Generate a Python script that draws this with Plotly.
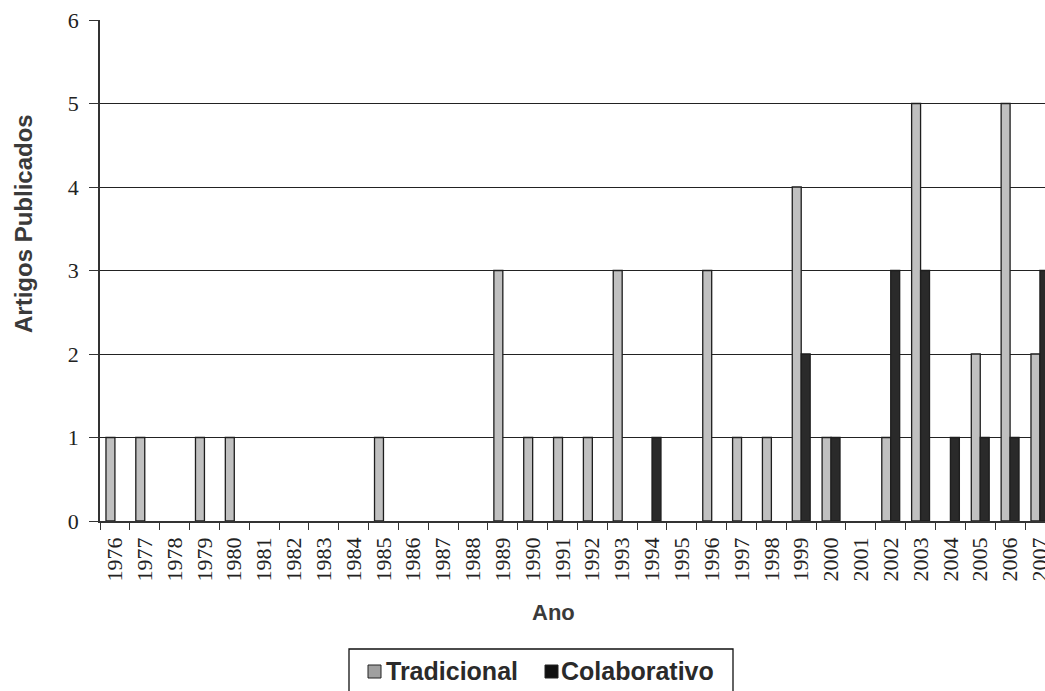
import plotly.graph_objects as go

# Artigos publicados por ano, separados por tipo
anos = [str(a) for a in range(1976, 2008)]
tradicional = [1, 1, 0, 1, 1, 0, 0, 0, 0, 1, 0, 0, 0, 3, 1, 1,
               1, 3, 0, 0, 3, 1, 1, 4, 1, 0, 1, 5, 0, 2, 5, 2]
colaborativo = [0, 0, 0, 0, 0, 0, 0, 0, 0, 0, 0, 0, 0, 0, 0, 0,
                0, 0, 1, 0, 0, 0, 0, 2, 1, 0, 3, 3, 1, 1, 1, 3]
y_ticks = [0, 1, 2, 3, 4, 5, 6]

W, H = 1045, 691
L, R, T, B = 100, 0, 20, 170
plot_w = W - L - R
plot_h = H - T - B


def px_x(px):
    return (px - L) / plot_w


def px_y(py):
    return (H - B - py) / plot_h


cor_trad = "#c0c0c0"
cor_colab = "#2a2a2a"
contorno = "#1e1e1e"


def contornos(valores):
    # sem contorno nas barras de altura zero
    return [1.3 if v else 0 for v in valores]


fig = go.Figure()
fig.add_trace(go.Bar(x=anos, y=tradicional, name="Tradicional",
                     marker=dict(color=cor_trad,
                                 line=dict(color=contorno, width=contornos(tradicional)))))
fig.add_trace(go.Bar(x=anos, y=colaborativo, name="Colaborativo",
                     marker=dict(color=cor_colab,
                                 line=dict(color=contorno, width=contornos(colaborativo)))))

serif = "Liberation Serif, Times New Roman, serif"
sans = "Liberation Sans, Arial, sans-serif"

fig.update_layout(
    width=W, height=H,
    margin=dict(l=L, r=R, t=T, b=B, pad=0, autoexpand=False),
    paper_bgcolor="white", plot_bgcolor="white",
    barmode="group", bargap=0.4, bargroupgap=0,
    showlegend=False,
    xaxis=dict(
        type="category", range=[-0.5, 31.17], automargin=False,
        tickson="boundaries", ticks="outside", ticklen=7, tickwidth=1.3,
        tickcolor="#333", tickangle=-90,
        tickfont=dict(family=serif, size=22, color="#222"),
        showline=True, linecolor="#333", linewidth=1.5,
        showgrid=False, ticklabelstandoff=6,
    ),
    yaxis=dict(
        range=[0, 6], tickvals=y_ticks, automargin=False,
        ticks="outside", ticklen=9, tickwidth=1.3,
        tickcolor="#333", tickfont=dict(family=serif, size=22, color="#222"),
        showline=True, linecolor="#333", linewidth=1.5,
        showgrid=True, gridcolor="#222", gridwidth=1.2,
        zeroline=False, ticklabelstandoff=6,
    ),
)

# Títulos dos eixos
fig.add_annotation(text="<b>Ano</b>", xref="paper", yref="paper",
                   x=px_x(553), y=px_y(612), xanchor="center", yanchor="middle",
                   showarrow=False, font=dict(family=sans, size=22, color="#3a3a3a"))
fig.add_annotation(text="<b>Artigos Publicados</b>", xref="paper", yref="paper",
                   x=px_x(23), y=px_y(224), xanchor="center", yanchor="middle",
                   textangle=-90, showarrow=False,
                   font=dict(family=sans, size=24, color="#3a3a3a"))

# Legenda
fig.add_shape(type="rect", xref="paper", yref="paper",
              x0=px_x(349), x1=px_x(733), y0=px_y(649), y1=px_y(720),
              line=dict(color="#111", width=1.3), fillcolor="white")
itens = [("Tradicional", "#a0a0a0", 368, 384), ("Colaborativo", "#111", 545, 559)]
for nome, cor, sx, tx in itens:
    fig.add_shape(type="rect", xref="paper", yref="paper",
                  x0=px_x(sx), x1=px_x(sx + 13), y0=px_y(665), y1=px_y(678),
                  line=dict(color="#222", width=1), fillcolor=cor)
    fig.add_annotation(text=f"<b>{nome}</b>", xref="paper", yref="paper",
                       x=px_x(tx), y=px_y(671), xanchor="left", yanchor="middle",
                       showarrow=False, font=dict(family=sans, size=25, color="#2a2a2a"))

fig.write_html("out.html")
